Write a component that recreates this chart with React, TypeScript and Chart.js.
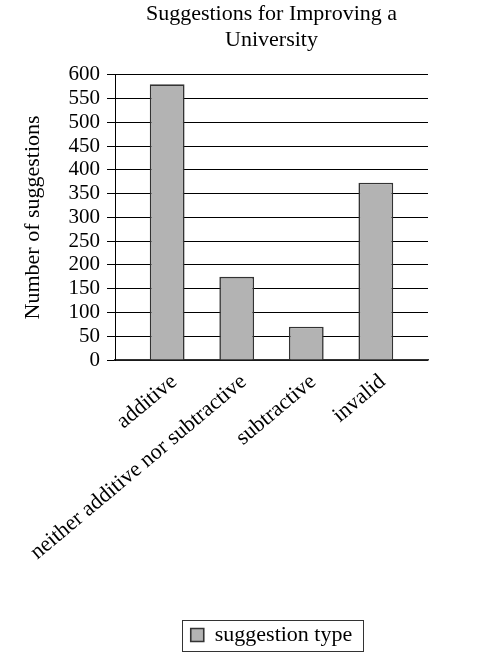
import React, { useEffect, useRef } from 'react';
import { Chart, registerables } from 'chart.js';

Chart.register(...registerables);

const categories = ['additive', 'neither additive nor subtractive', 'subtractive', 'invalid'];
const counts = [580, 175, 70, 373];
const seriesLabel = 'suggestion type';
const titleLines = ['Suggestions for Improving a', 'University'];
const yAxisTitle = 'Number of suggestions';
const yMin = 0;
const yMax = 600;
const yStep = 50;

const FONT = '"Liberation Serif", "Times New Roman", serif';

const legendBorder = {
  id: 'legendBorder',
  afterDraw(chart: any) {
    const lg = chart.legend;
    if (!lg || !lg.legendHitBoxes || !lg.legendHitBoxes.length) return;
    const hb = lg.legendHitBoxes[0];
    const ctx = chart.ctx;
    ctx.save();
    ctx.strokeStyle = '#333';
    ctx.lineWidth = 1;
    ctx.strokeRect(
      Math.round(hb.left - 8.5) + 0.5,
      Math.round(hb.top - 4.5) + 0.5,
      Math.round(hb.width + 19.5),
      Math.round(hb.height + 9)
    );
    ctx.restore();
  },
};

export default function App() {
  const ref = useRef<HTMLCanvasElement | null>(null);

  useEffect(() => {
    if (!ref.current) return;
    const data = counts.map((v, i) => ({ x: i, y: v }));
    const chart = new Chart(ref.current, {
      type: 'bar',
      data: {
        datasets: [
          {
            label: seriesLabel,
            data,
            backgroundColor: '#b3b3b3',
            borderColor: '#333333',
            borderWidth: 1.6,
            barPercentage: 0.5,
            categoryPercentage: 1,
          } as any,
        ],
      },
      options: {
        animation: false,
        responsive: true,
        maintainAspectRatio: false,
        layout: { padding: { left: 16, right: 49, top: 0, bottom: 6 } },
        scales: {
          x: {
            type: 'linear',
            min: -0.75,
            max: 3.75,
            offset: false,
            afterBuildTicks: (s: any) => {
              s.ticks = categories.map((_, i) => ({ value: i }));
            },
            afterFit: (s: any) => {
              s.height = 254;
            },
            ticks: {
              callback: (v: any) => categories[v as number] ?? '',
              minRotation: 40,
              maxRotation: 40,
              autoSkip: false,
              color: '#000',
              font: { family: FONT, size: 22 },
              padding: 1,
              labelOffset: 7,
            },
            grid: { display: false },
            border: { display: true, color: '#333', width: 1.5 },
          } as any,
          y: {
            min: yMin,
            max: yMax,
            afterFit: (s: any) => {
              s.width = 99;
            },
            ticks: {
              stepSize: yStep,
              autoSkip: false,
              color: '#000',
              font: { family: FONT, size: 21 },
              padding: 7,
            },
            grid: { color: '#000', lineWidth: 1, tickLength: 8 },
            border: { display: true, color: '#000', width: 1 },
            title: {
              display: true,
              text: yAxisTitle,
              color: '#000',
              font: { family: FONT, size: 22 },
              padding: { top: 4, bottom: 0 },
            },
          },
        },
        plugins: {
          title: {
            display: true,
            text: titleLines,
            fullSize: false,
            color: '#000',
            font: { family: FONT, size: 22, weight: 'normal', lineHeight: 1.2 },
            padding: { top: 1, bottom: 21 },
          },
          legend: {
            position: 'bottom',
            fullSize: false,
            labels: {
              boxWidth: 13,
              boxHeight: 13,
              color: '#000',
              font: { family: FONT, size: 22 },
              padding: 10,
            },
          },
          tooltip: { enabled: false },
        },
      },
      plugins: [legendBorder],
    });
    return () => chart.destroy();
  }, []);

  return (
    <div style={{ position: 'absolute', left: 0, top: 0, width: 477, height: 662, background: '#fff' }}>
      <canvas ref={ref} />
    </div>
  );
}
